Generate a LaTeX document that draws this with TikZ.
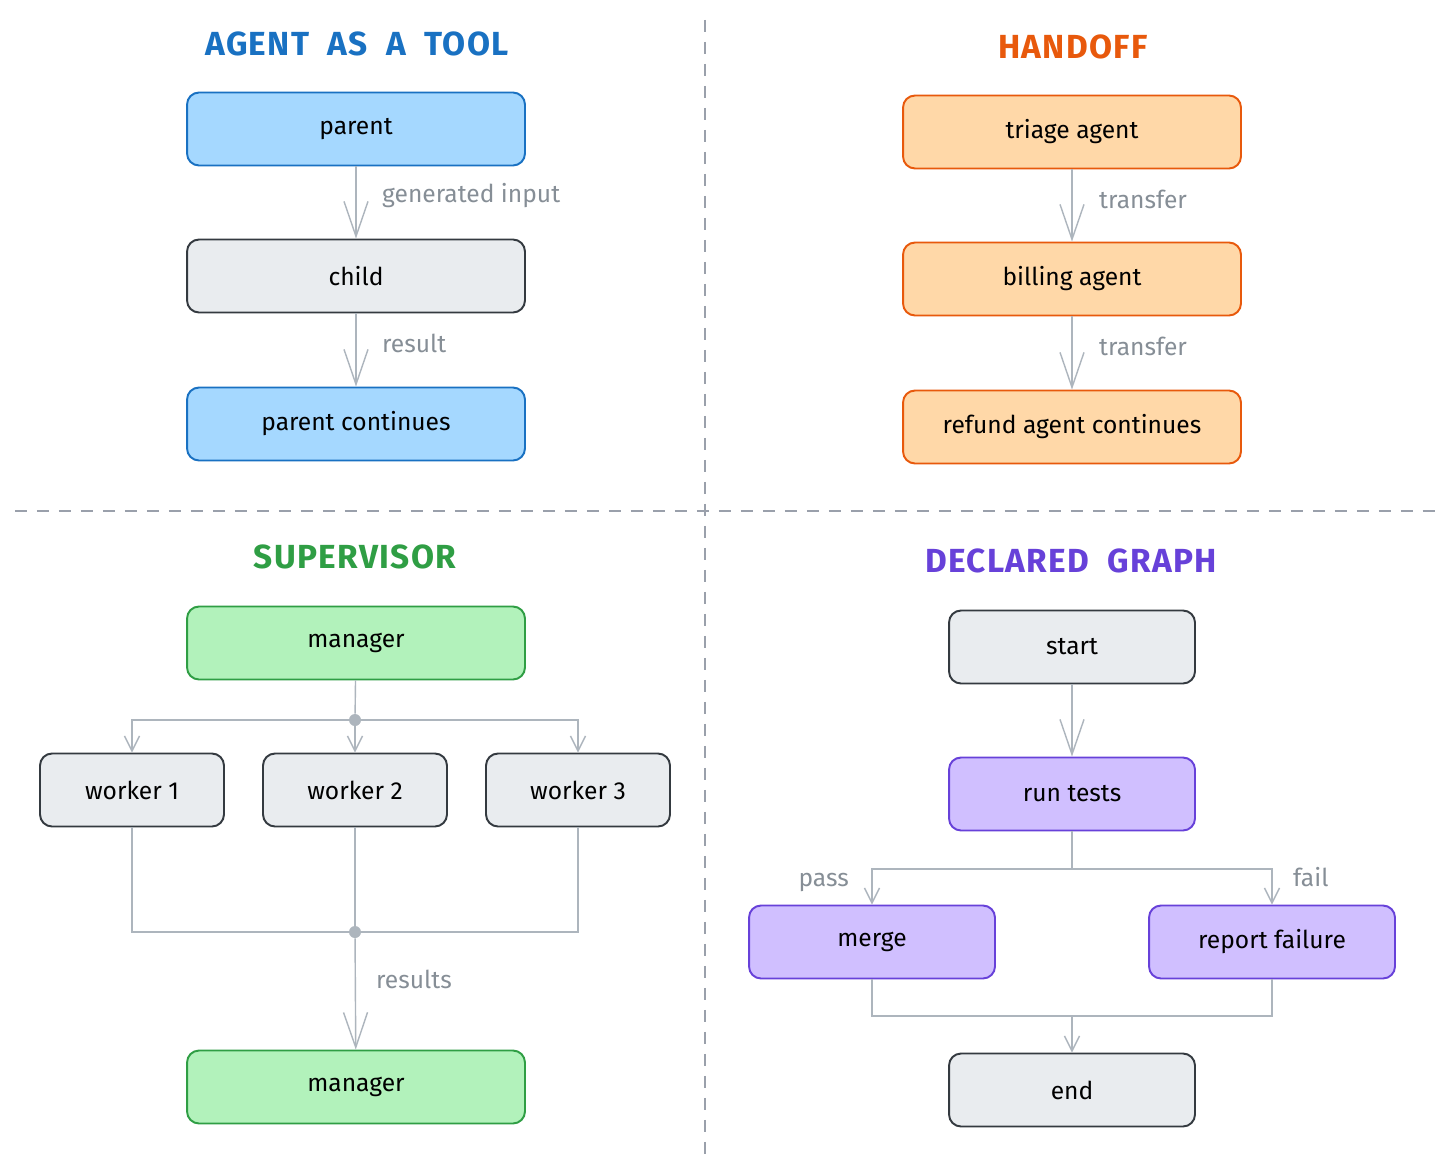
\documentclass[tikz,border=0pt]{standalone}
\usepackage{fontspec}
\setmainfont{Fira Sans}
\newfontfamily\headfont[LetterSpace=4]{Fira Sans}
\usepackage{xcolor}
\definecolor{toolline}{HTML}{1971C2}
\definecolor{toolfill}{HTML}{A5D8FF}
\definecolor{handline}{HTML}{E8590C}
\definecolor{handfill}{HTML}{FFD8A8}
\definecolor{supline}{HTML}{2F9E44}
\definecolor{supfill}{HTML}{B2F2BB}
\definecolor{graphline}{HTML}{6741D9}
\definecolor{graphfill}{HTML}{D0BFFF}
\definecolor{plainline}{HTML}{343A40}
\definecolor{plainfill}{HTML}{E9ECEF}
\definecolor{wire}{HTML}{ADB5BD}
\definecolor{wiretext}{HTML}{868E96}
\definecolor{rule}{HTML}{9AA0AB}
\usepackage{tikz}
\usetikzlibrary{arrows.meta}

\tikzset{
  box/.style={rounded corners=0.24cm, line width=1.1pt, inner sep=0pt,
    minimum height=1.46cm, font=\fontsize{14}{16}\selectfont},
  wide/.style={box, minimum width=6.76cm},
  narrow/.style={box, minimum width=4.92cm},
  small/.style={box, minimum width=3.68cm},
  tool/.style={draw=toolline, fill=toolfill},
  hand/.style={draw=handline, fill=handfill},
  sup/.style={draw=supline, fill=supfill},
  grph/.style={draw=graphline, fill=graphfill},
  plain/.style={draw=plainline, fill=plainfill},
  title/.style={font=\headfont\fontsize{19}{22}\selectfont\bfseries},
  wirelbl/.style={font=\fontsize{14}{16}\selectfont, text=wiretext},
  wireline/.style={draw=wire, line width=0.8pt},
  longtip/.style={wireline, -{Straight Barb[length=7mm, width=4.8mm]}},
  shorttip/.style={wireline, -{Straight Barb[length=3mm, width=3mm]}},
  hub/.style={circle, fill=wire, inner sep=0pt, minimum size=0.24cm}
}

\begin{document}
\begin{tikzpicture}[x=0.02cm, y=-0.02cm]
  \fill[white] (0,0) rectangle (1456,1159);
  \useasboundingbox (0,0) rectangle (1456,1159);
  \draw[draw=rule, line width=0.8pt, dash pattern=on 0.24cm off 0.2cm] (705,20) -- (705,1159);
  \draw[draw=rule, line width=0.8pt, dash pattern=on 0.24cm off 0.2cm] (15,511) -- (1440,511);

  % agent as a tool
  \node[title, text=toolline] (tooltitle) at (357,44) {AGENT\ \ AS\ \ A\ \ TOOL};
  \node[wide, tool] (parent) at (356,129) {parent};
  \node[wide, plain] (child) at (356,276) {child};
  \node[wide, tool] (parentcont) at (356,424) {parent continues};
  \draw[longtip] (parent) -- (child);
  \draw[longtip] (child) -- (parentcont);
  \node[wirelbl, anchor=west] (inputlbl) at (376,196) {generated input};
  \node[wirelbl, anchor=west] (resultlbl) at (376,343) {result};

  % handoff
  \node[title, text=handline] (handtitle) at (1073,47) {HANDOFF};
  \node[wide, hand] (triage) at (1072,132) {triage agent};
  \node[wide, hand] (billing) at (1072,279) {billing agent};
  \node[wide, hand] (refund) at (1072,427) {refund agent continues};
  \draw[longtip] (triage) -- (billing);
  \draw[longtip] (billing) -- (refund);
  \node[wirelbl, anchor=west] (xferone) at (1093,199) {transfer};
  \node[wirelbl, anchor=west] (xfertwo) at (1093,346) {transfer};

  % supervisor
  \node[title, text=supline] (suptitle) at (355,557) {SUPERVISOR};
  \node[wide, sup] (mgrtop) at (356,643) {manager};
  \node[small, plain] (wone) at (132,790) {worker 1};
  \node[small, plain] (wtwo) at (355,790) {worker 2};
  \node[small, plain] (wthree) at (578,790) {worker 3};
  \node[wide, sup] (mgrbot) at (356,1087) {manager};
  \node[hub] (fanout) at (355,720) {};
  \node[hub] (fanin) at (355,932) {};
  \draw[wireline] (mgrtop) -- (fanout);
  \draw[shorttip] (fanout) -| (wone);
  \draw[shorttip] (fanout) -- (wtwo);
  \draw[shorttip] (fanout) -| (wthree);
  \draw[wireline] (wone) |- (fanin);
  \draw[wireline] (wtwo) -- (fanin);
  \draw[wireline] (wthree) |- (fanin);
  \draw[longtip] (fanin) -- (mgrbot);
  \node[wirelbl, anchor=west] (resultslbl) at (370,979) {results};

  % declared graph
  \node[title, text=graphline] (graphtitle) at (1071,561) {DECLARED\ \ GRAPH};
  \node[narrow, plain] (gstart) at (1072,647) {start};
  \node[narrow, grph] (runtests) at (1072,794) {run tests};
  \node[narrow, grph] (merge) at (872,942) {merge};
  \node[narrow, grph] (report) at (1272,942) {report failure};
  \node[narrow, plain] (gend) at (1072,1090) {end};
  \coordinate (split) at (1072,869);
  \coordinate (rejoin) at (1072,1016);
  \draw[longtip] (gstart) -- (runtests);
  \draw[wireline] (runtests) -- (split);
  \draw[shorttip] (split) -| (merge);
  \draw[shorttip] (split) -| (report);
  \draw[wireline] (merge) |- (rejoin);
  \draw[wireline] (report) |- (rejoin);
  \draw[shorttip] (rejoin) -- (gend);
  \node[wirelbl, anchor=east] (passlbl) at (855,882) {pass};
  \node[wirelbl, anchor=west] (faillbl) at (1287,877) {fail};
\end{tikzpicture}
\end{document}
